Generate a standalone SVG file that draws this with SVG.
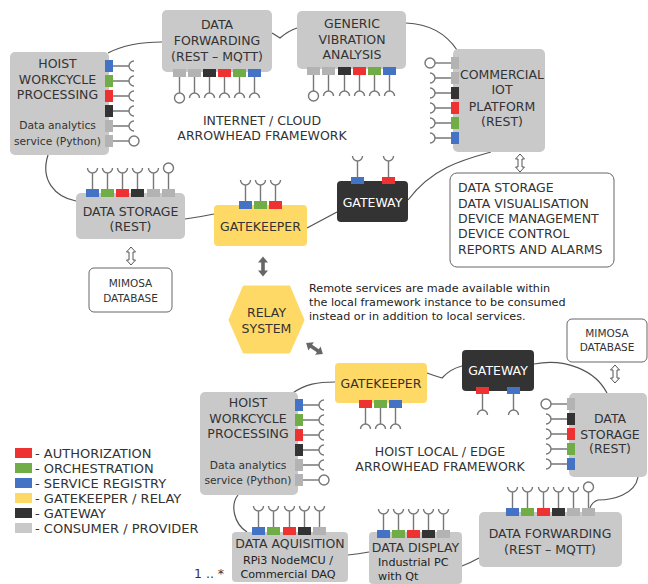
<svg xmlns="http://www.w3.org/2000/svg" width="648" height="584" viewBox="0 0 648 584">
<style>
  .n{fill:#c9c9c9}
  .yl{fill:#ffd966}
  .dk{fill:#333}
  .box{fill:#fff;stroke:#666;stroke-width:1}
  .B{fill:#4472c4}.G{fill:#70ad47}.R{fill:#ee3131}.K{fill:#333}.A{fill:#b3b3b3}.Y{fill:#ffd966}
  .c{stroke:#555;stroke-width:1.2;fill:none}
  text{font-family:"DejaVu Sans",Verdana,sans-serif;fill:#333}
  .t{font-size:12.5px;text-anchor:middle}
  .wt{fill:#fff}
  .sm{font-size:10.7px;text-anchor:middle}
  .p{font-size:11.2px;fill:#222}
  .lg{font-size:13px}
  .db{font-size:10.5px;text-anchor:middle}
  .ha{fill:#fff;stroke:#555;stroke-width:1}
  .sa{fill:#666}
</style>
<defs>
  <!-- required-interface sockets and provided-interface lollipops, stem of 16px -->
  <path id="sU" d="M0,0V-16M-5,-21A5,5 0 0 0 5,-21" stroke="#777" stroke-width="1.4" fill="none"/>
  <path id="sD" d="M0,0V16M-5,21A5,5 0 0 1 5,21" stroke="#777" stroke-width="1.4" fill="none"/>
  <path id="sR" d="M0,0H16M21,-5A5,5 0 0 0 21,5" stroke="#777" stroke-width="1.4" fill="none"/>
  <path id="sL" d="M0,0H-16M-21,-5A5,5 0 0 1 -21,5" stroke="#777" stroke-width="1.4" fill="none"/>
  <g id="cU" stroke="#777" stroke-width="1.4" fill="#fff"><path d="M0,0V-16"/><circle cx="0" cy="-21" r="5"/></g>
  <g id="cD" stroke="#777" stroke-width="1.4" fill="#fff"><path d="M0,0V16"/><circle cx="0" cy="21" r="5"/></g>
  <g id="cR" stroke="#777" stroke-width="1.4" fill="#fff"><path d="M0,0H16"/><circle cx="21" cy="0" r="5"/></g>
  <g id="cL" stroke="#777" stroke-width="1.4" fill="#fff"><path d="M0,0H-16"/><circle cx="-21" cy="0" r="5"/></g>
  <!-- hollow double arrow, vertical, 18px long, centred on origin -->
  <path id="harr" class="ha" d="M0,-9L4.5,-4L2,-4L2,4L4.5,4L0,9L-4.5,4L-2,4L-2,-4L-4.5,-4Z"/>
  <!-- solid double arrow, horizontal, 20px long, centred on origin -->
  <path id="sarr" class="sa" d="M-10,0L-4,-5L-4,-1.8L4,-1.8L4,-5L10,0L4,5L4,1.8L-4,1.8L-4,5Z"/>
</defs>

<!-- framework boundaries (cloud outlines between systems) -->
<g id="connectors">
  <path class="c" d="M108,53C125,44 145,42 162,42"/>
  <path class="c" d="M272,33L280,38Q288,31 297,28"/>
  <path class="c" d="M406,23C430,24 447,35 457,50"/>
  <path class="c" d="M491,152C462,160 432,168 408,200"/>
  <path class="c" d="M337,212Q322,220 307,228"/>
  <path class="c" d="M214,214Q200,217 185,219"/>
  <path class="c" d="M76,201C55,197 40,180 48,155"/>

  <path class="c" d="M293,393C305,384 318,382 335,382"/>
  <path class="c" d="M427,373Q435,376 442,378Q450,369 462,366"/>
  <path class="c" d="M534,364C565,358 595,370 607,393"/>
  <path class="c" d="M638,477C635,495 612,500 598,500Q592,502 590,508"/>
  <path class="c" d="M479,558Q470,563 462,566"/>
  <path class="c" d="M369,552Q358,554 348,555"/>
  <path class="c" d="M247,532C234,524 230,505 238,495"/>

  <use href="#harr" x="131" y="256"/>
  <use href="#harr" x="520" y="163"/>
  <use href="#harr" x="615" y="374"/>
  <use href="#sarr" transform="translate(263,266.5) rotate(90)"/>
  <use href="#sarr" transform="translate(314.5,348.5) rotate(33)"/>
</g>

<!-- ===== Internet / cloud framework ===== -->
<g id="hoist-cloud">
  <rect class="n" x="10" y="52" width="99" height="103" rx="5"/>
  <text class="t" x="57.5" y="68.3">HOIST</text>
  <text class="t" x="57.5" y="84">WORKCYCLE</text>
  <text class="t" x="57.5" y="99.3">PROCESSING</text>
  <text class="sm" x="57.5" y="129">Data analytics</text>
  <text class="sm" x="57.5" y="144.5">service (Python)</text>
  <rect class="B" x="105" y="60" width="8" height="12"/>
  <rect class="G" x="105" y="75" width="8" height="12"/>
  <rect class="R" x="105" y="90" width="8" height="12"/>
  <rect class="K" x="105" y="105" width="8" height="12"/>
  <rect class="A" x="105" y="120" width="8" height="12"/>
  <rect class="A" x="105" y="135" width="8" height="12"/>
  <use href="#sR" x="113" y="66"/><use href="#sR" x="113" y="81"/><use href="#sR" x="113" y="96"/>
  <use href="#sR" x="113" y="111"/><use href="#sR" x="113" y="126"/><use href="#cR" x="113" y="141"/>
</g>

<g id="forwarding-cloud">
  <rect class="n" x="162" y="10" width="110" height="62" rx="5"/>
  <text class="t" x="217" y="29">DATA</text>
  <text class="t" x="217" y="45">FORWARDING</text>
  <text class="t" x="217" y="60.5">(REST – MQTT)</text>
  <rect class="A" x="173" y="69" width="13" height="8"/>
  <rect class="A" x="188" y="69" width="13" height="8"/>
  <rect class="K" x="203" y="69" width="13" height="8"/>
  <rect class="R" x="218" y="69" width="13" height="8"/>
  <rect class="G" x="233" y="69" width="13" height="8"/>
  <rect class="B" x="248" y="69" width="13" height="8"/>
  <use href="#cD" x="179.5" y="77"/><use href="#sD" x="194.5" y="77"/><use href="#sD" x="209.5" y="77"/>
  <use href="#sD" x="224.5" y="77"/><use href="#sD" x="239.5" y="77"/><use href="#sD" x="254.5" y="77"/>
</g>

<g id="vibration">
  <rect class="n" x="297" y="11" width="109" height="58" rx="5"/>
  <text class="t" x="352" y="28.3">GENERIC</text>
  <text class="t" x="352" y="44">VIBRATION</text>
  <text class="t" x="352" y="59.3">ANALYSIS</text>
  <rect class="A" x="307" y="67" width="13" height="8"/>
  <rect class="A" x="322" y="67" width="13" height="8"/>
  <rect class="K" x="338" y="67" width="13" height="8"/>
  <rect class="R" x="353" y="67" width="13" height="8"/>
  <rect class="G" x="368" y="67" width="13" height="8"/>
  <rect class="B" x="383" y="67" width="13" height="8"/>
  <use href="#cD" x="313.5" y="75"/><use href="#sD" x="328.5" y="75"/><use href="#sD" x="344.5" y="75"/>
  <use href="#sD" x="359.5" y="75"/><use href="#sD" x="374.5" y="75"/><use href="#sD" x="389.5" y="75"/>
</g>

<g id="iot-platform">
  <rect class="n" x="453" y="49" width="92" height="103" rx="5"/>
  <text class="t" x="502" y="79">COMMERCIAL</text>
  <text class="t" x="502" y="94.3">IOT</text>
  <text class="t" x="502" y="110.5">PLATFORM</text>
  <text class="t" x="502" y="125.5">(REST)</text>
  <rect class="A" x="451" y="57" width="8" height="12"/>
  <rect class="A" x="451" y="72" width="8" height="12"/>
  <rect class="K" x="451" y="87" width="8" height="12"/>
  <rect class="R" x="451" y="102" width="8" height="12"/>
  <rect class="G" x="451" y="117" width="8" height="12"/>
  <rect class="B" x="451" y="132" width="8" height="12"/>
  <use href="#cL" x="451" y="63"/><use href="#sL" x="451" y="78"/><use href="#sL" x="451" y="93"/>
  <use href="#sL" x="451" y="108"/><use href="#sL" x="451" y="123"/><use href="#sL" x="451" y="138"/>
</g>

<g id="iot-features">
  <rect class="box" x="450" y="173" width="164" height="94" rx="7"/>
  <text class="t" style="text-anchor:start" x="458" y="192">DATA STORAGE</text>
  <text class="t" style="text-anchor:start" x="458" y="207.5">DATA VISUALISATION</text>
  <text class="t" style="text-anchor:start" x="458" y="223">DEVICE MANAGEMENT</text>
  <text class="t" style="text-anchor:start" x="458" y="238">DEVICE CONTROL</text>
  <text class="t" style="text-anchor:start" x="458" y="253.5">REPORTS AND ALARMS</text>
</g>

<g id="storage-cloud">
  <rect class="n" x="76" y="193" width="109" height="46" rx="5"/>
  <text class="t" x="130.5" y="215.7">DATA STORAGE</text>
  <text class="t" x="130.5" y="230.5">(REST)</text>
  <rect class="B" x="86" y="189" width="13" height="8"/>
  <rect class="G" x="101" y="189" width="13" height="8"/>
  <rect class="R" x="116" y="189" width="13" height="8"/>
  <rect class="K" x="131" y="189" width="13" height="8"/>
  <rect class="A" x="147" y="189" width="13" height="8"/>
  <rect class="A" x="162" y="189" width="13" height="8"/>
  <use href="#sU" x="92.5" y="189"/><use href="#sU" x="107.5" y="189"/><use href="#sU" x="122.5" y="189"/>
  <use href="#sU" x="137.5" y="189"/><use href="#sU" x="153.5" y="189"/><use href="#cU" x="168.5" y="189"/>
</g>

<g id="gatekeeper-cloud">
  <rect class="yl" x="214" y="205" width="93" height="41" rx="4"/>
  <text class="t" x="260.5" y="231">GATEKEEPER</text>
  <rect class="B" x="239" y="201" width="13" height="8"/>
  <rect class="G" x="254" y="201" width="13" height="8"/>
  <rect class="R" x="269" y="201" width="13" height="8"/>
  <use href="#sU" x="245.5" y="201"/><use href="#sU" x="260.5" y="201"/><use href="#sU" x="275.5" y="201"/>
</g>

<g id="gateway-cloud">
  <rect class="dk" x="337" y="181" width="71" height="41" rx="4"/>
  <text class="t wt" x="372.5" y="206.7">GATEWAY</text>
  <rect class="B" x="351" y="177" width="13" height="7"/>
  <rect class="R" x="382" y="177" width="13" height="7"/>
  <use href="#sU" x="357.5" y="177"/><use href="#sU" x="388.5" y="177"/>
</g>

<g id="mimosa-cloud">
  <rect class="box" x="89" y="268" width="83" height="44" rx="5"/>
  <text class="db" x="130.5" y="287.3">MIMOSA</text>
  <text class="db" x="130.5" y="301.7">DATABASE</text>
</g>

<g id="cloud-label">
  <text class="t" x="262" y="125">INTERNET / CLOUD</text>
  <text class="t" x="262" y="140">ARROWHEAD FRAMEWORK</text>
</g>

<!-- ===== Relay between the two frameworks ===== -->
<g id="relay">
  <polygon class="yl" stroke="#ffd966" stroke-width="3" stroke-linejoin="round" points="244,287 289,287 303,320 289,352 244,352 230,320"/>
  <text class="t" x="266.5" y="317">RELAY</text>
  <text class="t" x="266.5" y="333">SYSTEM</text>
</g>

<g id="relay-note">
  <text class="p" x="309" y="292">Remote services are made available within</text>
  <text class="p" x="309" y="306">the local framework instance to be consumed</text>
  <text class="p" x="309" y="320">instead or in addition to local services.</text>
</g>

<!-- ===== Local / edge framework ===== -->
<g id="mimosa-local">
  <rect class="box" x="567" y="319" width="80" height="43" rx="5"/>
  <text class="db" x="607" y="337">MIMOSA</text>
  <text class="db" x="607" y="351">DATABASE</text>
</g>

<g id="gatekeeper-local">
  <rect class="yl" x="335" y="363" width="92" height="40" rx="4"/>
  <text class="t" x="381" y="387.5">GATEKEEPER</text>
  <rect class="R" x="359" y="400" width="13" height="8"/>
  <rect class="G" x="374" y="400" width="13" height="8"/>
  <rect class="B" x="389" y="400" width="13" height="8"/>
  <use href="#sD" x="365.5" y="408"/><use href="#sD" x="380.5" y="408"/><use href="#sD" x="395.5" y="408"/>
</g>

<g id="gateway-local">
  <rect class="dk" x="462" y="350" width="72" height="41" rx="4"/>
  <text class="t wt" x="498" y="375">GATEWAY</text>
  <rect class="R" x="476" y="387" width="13" height="7"/>
  <rect class="B" x="507" y="387" width="13" height="7"/>
  <use href="#sD" x="482.5" y="394"/><use href="#sD" x="513.5" y="394"/>
</g>

<g id="hoist-local">
  <rect class="n" x="200" y="392" width="98" height="103" rx="5"/>
  <text class="t" x="248" y="407.3">HOIST</text>
  <text class="t" x="248" y="423">WORKCYCLE</text>
  <text class="t" x="248" y="438.3">PROCESSING</text>
  <text class="sm" x="248" y="468.5">Data analytics</text>
  <text class="sm" x="248" y="484">service (Python)</text>
  <rect class="B" x="295" y="399" width="8" height="12"/>
  <rect class="G" x="295" y="414" width="8" height="12"/>
  <rect class="R" x="295" y="429" width="8" height="12"/>
  <rect class="K" x="295" y="444" width="8" height="12"/>
  <rect class="A" x="295" y="459" width="8" height="12"/>
  <rect class="A" x="295" y="474" width="8" height="12"/>
  <use href="#sR" x="303" y="405"/><use href="#sR" x="303" y="420"/><use href="#sR" x="303" y="435"/>
  <use href="#sR" x="303" y="450"/><use href="#sR" x="303" y="465"/><use href="#cR" x="303" y="480"/>
</g>

<g id="storage-local">
  <rect class="n" x="569" y="393" width="78" height="84" rx="5"/>
  <text class="t" x="610" y="423">DATA</text>
  <text class="t" x="610" y="438.5">STORAGE</text>
  <text class="t" x="610" y="453">(REST)</text>
  <rect class="A" x="567" y="398" width="8" height="12"/>
  <rect class="K" x="567" y="413" width="8" height="12"/>
  <rect class="R" x="567" y="428" width="8" height="12"/>
  <rect class="G" x="567" y="443" width="8" height="12"/>
  <rect class="B" x="567" y="458" width="8" height="12"/>
  <use href="#cL" x="567" y="404"/><use href="#sL" x="567" y="419"/><use href="#sL" x="567" y="434"/>
  <use href="#sL" x="567" y="449"/><use href="#sL" x="567" y="464"/>
</g>

<g id="local-label">
  <text class="t" x="440" y="456">HOIST LOCAL / EDGE</text>
  <text class="t" x="440" y="471">ARROWHEAD FRAMEWORK</text>
</g>

<g id="acquisition">
  <rect class="n" x="232" y="532" width="116" height="50" rx="4"/>
  <text class="t" x="290" y="548.3">DATA AQUISITION</text>
  <text class="p" style="text-anchor:middle" x="288" y="563.5">RPi3 NodeMCU /</text>
  <text class="p" style="text-anchor:middle" x="288" y="578">Commercial DAQ</text>
  <rect class="B" x="252" y="527" width="13" height="8"/>
  <rect class="G" x="267" y="527" width="13" height="8"/>
  <rect class="R" x="283" y="527" width="13" height="8"/>
  <rect class="K" x="298" y="527" width="13" height="8"/>
  <rect class="A" x="313" y="527" width="13" height="8"/>
  <use href="#sU" x="258.5" y="527"/><use href="#sU" x="273.5" y="527"/><use href="#sU" x="289.5" y="527"/>
  <use href="#sU" x="304.5" y="527"/><use href="#sU" x="319.5" y="527"/>
  <text style="font-size:12.5px;fill:#333" x="194" y="578">1 .. *</text>
</g>

<g id="display">
  <rect class="n" x="369" y="532" width="93" height="52" rx="4"/>
  <text class="t" x="415.5" y="552">DATA DISPLAY</text>
  <text class="p" x="378" y="566">Industrial PC</text>
  <text class="p" x="378" y="580">with Qt</text>
  <rect class="B" x="377" y="530" width="13" height="8"/>
  <rect class="G" x="392" y="530" width="13" height="8"/>
  <rect class="R" x="407" y="530" width="13" height="8"/>
  <rect class="K" x="422" y="530" width="13" height="8"/>
  <rect class="A" x="437" y="530" width="13" height="8"/>
  <use href="#sU" x="383.5" y="530"/><use href="#sU" x="398.5" y="530"/><use href="#sU" x="413.5" y="530"/>
  <use href="#sU" x="428.5" y="530"/><use href="#sU" x="443.5" y="530"/>
</g>

<g id="forwarding-local">
  <rect class="n" x="479" y="512" width="143" height="55" rx="5"/>
  <text class="t" x="550" y="538">DATA FORWARDING</text>
  <text class="t" x="550" y="554">(REST – MQTT)</text>
  <rect class="B" x="506" y="508" width="13" height="8"/>
  <rect class="G" x="521" y="508" width="13" height="8"/>
  <rect class="R" x="537" y="508" width="13" height="8"/>
  <rect class="K" x="552" y="508" width="13" height="8"/>
  <rect class="A" x="567" y="508" width="13" height="8"/>
  <rect class="A" x="582" y="508" width="13" height="8"/>
  <use href="#sU" x="512.5" y="508"/><use href="#sU" x="527.5" y="508"/><use href="#sU" x="543.5" y="508"/>
  <use href="#sU" x="558.5" y="508"/><use href="#sU" x="573.5" y="508"/><use href="#cU" x="588.5" y="508"/>
</g>

<!-- ===== Legend ===== -->
<g id="legend">
  <rect class="R" x="15" y="448" width="17" height="10"/>
  <rect class="G" x="15" y="463" width="17" height="10"/>
  <rect class="B" x="15" y="478" width="17" height="10"/>
  <rect class="Y" x="15" y="493" width="17" height="10"/>
  <rect class="K" x="15" y="508" width="17" height="10"/>
  <rect class="A" x="15" y="523" width="17" height="10" style="fill:#c9c9c9"/>
  <text class="lg" x="35" y="457.5">- AUTHORIZATION</text>
  <text class="lg" x="35" y="472.5">- ORCHESTRATION</text>
  <text class="lg" x="35" y="487.5">- SERVICE REGISTRY</text>
  <text class="lg" x="35" y="502.5">- GATEKEEPER / RELAY</text>
  <text class="lg" x="35" y="517.5">- GATEWAY</text>
  <text class="lg" x="35" y="532.5">- CONSUMER / PROVIDER</text>
</g>
</svg>
